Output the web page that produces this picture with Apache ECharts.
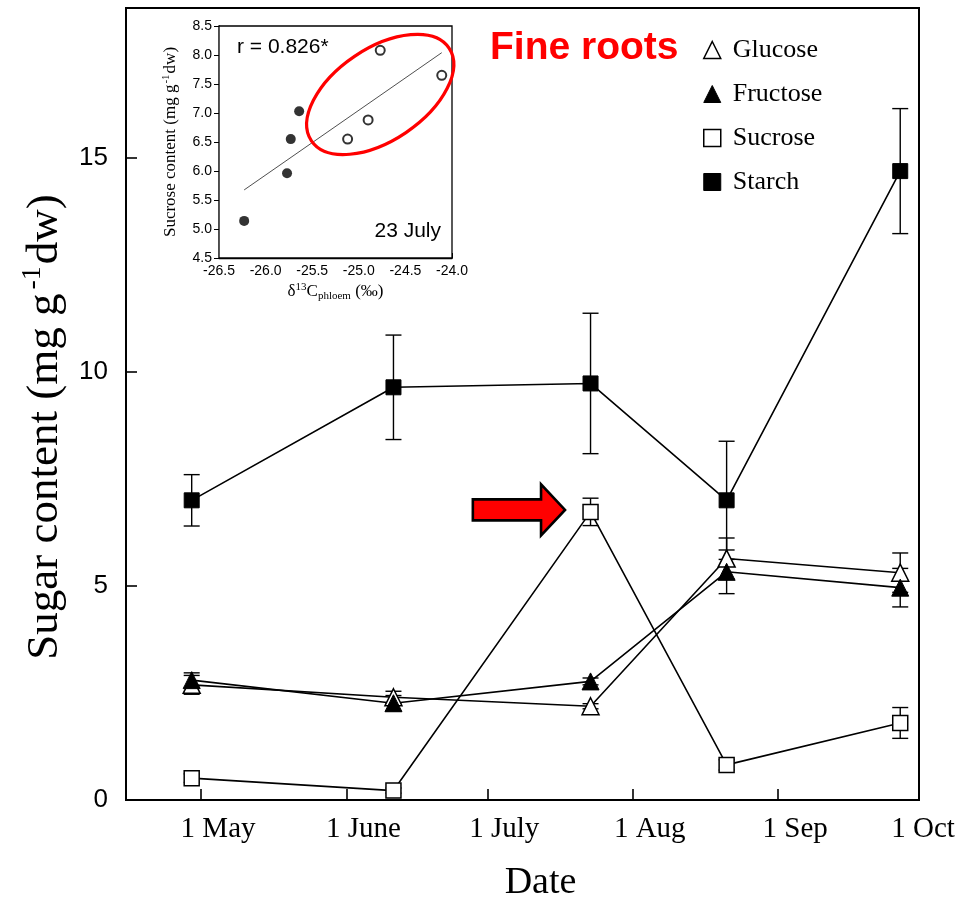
<!DOCTYPE html>
<html>
<head>
<meta charset="utf-8">
<script src="https://cdn.jsdelivr.net/npm/echarts@6/dist/echarts.min.js"></script>
<style>
  html, body { margin: 0; padding: 0; background: #fff; }
  #chart { width: 962px; height: 907px; }
</style>
</head>
<body>
<div id="chart"></div>
<script>
// Harvest dates (month-day) for the fine-root samples
const sampleDates = ['04-29', '06-11', '07-23', '08-21', '09-27'];

// Sugar contents, mg g-1 dw (mean and standard error)
const glucose     = [2.69, 2.40, 2.19, 5.64, 5.31];
const glucoseErr  = [0.22, 0.14, 0.06, 0.48, 0.46];
const fructose    = [2.80, 2.26, 2.77, 5.33, 4.96];
const fructoseErr = [0.17, 0.18, 0.08, 0.51, 0.45];
const sucrose     = [0.51, 0.22, 6.73, 0.82, 1.80];
const sucroseErr  = [0.10, 0.06, 0.32, 0.12, 0.36];
const starch      = [7.00, 9.64, 9.73, 7.00, 14.69];
const starchErr   = [0.60, 1.22, 1.64, 1.38, 1.46];

// Axis ticks
const monthTicks  = ['05-01', '06-01', '07-01', '08-01', '09-01', '10-01'];
const monthLabels = ['1 May', '1 June', '1 July', '1 Aug', '1 Sep', '1 Oct'];
const xRange      = ['04-15', '10-01'];
const yTicks      = [0, 5, 10, 15];

// Inset: sucrose content vs. phloem δ13C on 23 July
const d13cFilled = [-26.23, -25.77, -25.73, -25.64];
const sucFilled  = [5.14, 5.96, 6.55, 7.03];
const d13cOpen   = [-25.12, -24.90, -24.77, -24.11];
const sucOpen    = [6.55, 6.88, 8.08, 7.65];

const SERIF = "'Liberation Serif', 'Times New Roman', serif";
const SANS  = "'Liberation Sans', Arial, sans-serif";

// day of year (non-leap calendar) for a 'MM-DD' string
function doy(md) {
  const [m, d] = md.split('-').map(Number);
  return (Date.UTC(2001, m - 1, d) - Date.UTC(2001, 0, 1)) / 86400000 + 1;
}
const xs = sampleDates.map(doy);
const tickDays = monthTicks.map(doy);

function pairs(vals) { return vals.map((v, i) => [xs[i], v]); }

function errorBars(vals, errs) {
  return {
    type: 'custom',
    xAxisIndex: 0, yAxisIndex: 0,
    silent: true, z: 1,
    data: vals.map((v, i) => [xs[i], v - errs[i], v + errs[i]]),
    encode: { x: 0, y: [1, 2] },
    renderItem(params, api) {
      const x = api.value(0);
      const lo = api.coord([x, api.value(1)]);
      const hi = api.coord([x, api.value(2)]);
      const hw = 8;
      const st = { stroke: '#000', lineWidth: 1.4 };
      return {
        type: 'group',
        children: [
          { type: 'line', shape: { x1: lo[0], y1: lo[1], x2: hi[0], y2: hi[1] }, style: st },
          { type: 'line', shape: { x1: lo[0] - hw, y1: lo[1], x2: lo[0] + hw, y2: lo[1] }, style: st },
          { type: 'line', shape: { x1: hi[0] - hw, y1: hi[1], x2: hi[0] + hw, y2: hi[1] }, style: st }
        ]
      };
    }
  };
}

function sugarLine(name, vals, symbol, open) {
  return {
    type: 'line', name,
    xAxisIndex: 0, yAxisIndex: 0,
    data: pairs(vals),
    symbol, symbolSize: symbol === 'triangle' ? 17 : 15,
    showAllSymbol: true,
    itemStyle: open
      ? { color: '#fff', borderColor: '#000', borderWidth: 1.5 }
      : { color: '#000', borderColor: '#000', borderWidth: 1 },
    lineStyle: { color: '#000', width: 1.6 },
    emphasis: { disabled: true },
    z: 3
  };
}

// least-squares fit across all inset points
const allX = d13cFilled.concat(d13cOpen);
const allY = sucFilled.concat(sucOpen);
const mx = allX.reduce((a, b) => a + b, 0) / allX.length;
const my = allY.reduce((a, b) => a + b, 0) / allY.length;
let sxy = 0, sxx = 0;
allX.forEach((x, i) => { sxy += (x - mx) * (allY[i] - my); sxx += (x - mx) * (x - mx); });
const slope = sxy / sxx;
const x0 = Math.min(...allX), x1 = Math.max(...allX);
const fitLine = [[x0, my + slope * (x0 - mx)], [x1, my + slope * (x1 - mx)]];

const chart = echarts.init(document.getElementById('chart'), null, { renderer: 'canvas' });

const openSym = { color: '#fff', borderColor: '#000', borderWidth: 1.5 };
const fullSym = { color: '#000', borderColor: '#000', borderWidth: 1 };

const option = {
  animation: false,
  backgroundColor: '#fff',
  grid: [
    { left: 126, top: 8, right: 43, bottom: 106, show: true, borderColor: '#000', borderWidth: 2, backgroundColor: 'transparent', z: 0 },
    { left: 219, top: 26, width: 233, height: 232, show: true, borderColor: '#000', borderWidth: 1.3, backgroundColor: '#fff', z: 5 }
  ],
  legend: {
    orient: 'vertical',
    left: 698, top: 32,
    itemWidth: 17, itemHeight: 17, itemGap: 18,
    selectedMode: false,
    textStyle: { fontFamily: SERIF, fontSize: 26, color: '#000', padding: [0, 0, 0, 7] },
    data: [
      { name: 'Glucose',  icon: 'triangle', itemStyle: openSym },
      { name: 'Fructose', icon: 'triangle', itemStyle: fullSym },
      { name: 'Sucrose',  icon: 'rect',     itemStyle: { color: '#fff', borderColor: '#000', borderWidth: 1.5 } },
      { name: 'Starch',   icon: 'rect',     itemStyle: fullSym }
    ]
  },
  xAxis: [
    {
      type: 'value', gridIndex: 0,
      min: doy(xRange[0]), max: doy(xRange[1]),
      name: 'Date', nameLocation: 'middle', nameGap: 64,
      nameTextStyle: { fontFamily: SERIF, fontSize: 38, color: '#000', padding: [0, 0, 0, 36] },
      axisLine: { show: true, lineStyle: { color: '#000', width: 2 } },
      axisTick: { show: true, inside: true, length: 11, customValues: tickDays, lineStyle: { color: '#000', width: 1.6 } },
      axisLabel: {
        show: true, margin: 15, customValues: tickDays,
        fontFamily: SERIF, fontSize: 29, color: '#000',
        formatter: v => {
          const i = tickDays.indexOf(v);
          const t = i >= 0 ? monthLabels[i] : '';
          return i === tickDays.length - 1 ? '{e|' + t + '}' : '{n|' + t + '}';
        },
        rich: {
          n: { fontFamily: SERIF, fontSize: 29, color: '#000', padding: [0, 0, 0, 34] },
          e: { fontFamily: SERIF, fontSize: 29, color: '#000', padding: [0, 0, 0, 8] }
        }
      },
      splitLine: { show: false }
    },
    {
      type: 'value', gridIndex: 1,
      min: -26.5, max: -24.0, interval: 0.5,
      name: 'δ{sup|13}C{sub|phloem} (‰)', nameLocation: 'middle', nameGap: 24,
      nameTextStyle: {
        fontFamily: SERIF, fontSize: 17, color: '#000',
        rich: {
          sup: { fontFamily: SERIF, fontSize: 11, color: '#000', padding: [0, 0, 9, 0] },
          sub: { fontFamily: SERIF, fontSize: 11, color: '#000', padding: [9, 0, 0, 0] }
        }
      },
      axisLine: { show: true, lineStyle: { color: '#000', width: 1.3 } },
      axisTick: { show: true, inside: true, length: 5, lineStyle: { color: '#000', width: 1 } },
      axisLabel: { fontFamily: SANS, fontSize: 14, color: '#000', margin: 6, formatter: v => v.toFixed(1) },
      splitLine: { show: false }
    }
  ],
  yAxis: [
    {
      type: 'value', gridIndex: 0,
      min: 0, max: 18.5,
      name: 'Sugar content (mg g{sup|-1}dw)', nameLocation: 'middle', nameGap: 55,
      nameTextStyle: {
        fontFamily: SERIF, fontSize: 45, color: '#000', padding: [0, 46, 0, 0],
        rich: { sup: { fontFamily: SERIF, fontSize: 28, color: '#000', padding: [0, 2, 24, 4] } }
      },
      axisLine: { show: true, lineStyle: { color: '#000', width: 2 } },
      axisTick: { show: true, inside: true, length: 11, customValues: yTicks, lineStyle: { color: '#000', width: 1.6 } },
      axisLabel: { show: true, customValues: yTicks, margin: 18, fontFamily: SANS, fontSize: 26, color: '#000' },
      splitLine: { show: false }
    },
    {
      type: 'value', gridIndex: 1,
      min: 4.5, max: 8.5, interval: 0.5,
      name: 'Sucrose content (mg g{sup|-1}dw)', nameLocation: 'middle', nameGap: 38,
      nameTextStyle: {
        fontFamily: SERIF, fontSize: 17, color: '#000',
        rich: { sup: { fontFamily: SERIF, fontSize: 11, color: '#000', padding: [0, 1, 9, 1] } }
      },
      axisLine: { show: true, lineStyle: { color: '#000', width: 1.3 } },
      axisTick: { show: true, inside: false, length: 5, lineStyle: { color: '#000', width: 1 } },
      axisLabel: { fontFamily: SANS, fontSize: 14, color: '#000', margin: 7, formatter: v => v.toFixed(1) },
      splitLine: { show: false }
    }
  ],
  series: [
    errorBars(starch, starchErr),
    errorBars(sucrose, sucroseErr),
    errorBars(glucose, glucoseErr),
    errorBars(fructose, fructoseErr),
    sugarLine('Starch', starch, 'rect', false),
    sugarLine('Sucrose', sucrose, 'rect', true),
    sugarLine('Glucose', glucose, 'triangle', true),
    sugarLine('Fructose', fructose, 'triangle', false),
    {
      type: 'line', xAxisIndex: 1, yAxisIndex: 1,
      data: fitLine, symbol: 'none', silent: true,
      lineStyle: { color: '#222', width: 0.8 }, z: 6
    },
    {
      type: 'scatter', xAxisIndex: 1, yAxisIndex: 1,
      data: d13cFilled.map((x, i) => [x, sucFilled[i]]),
      symbol: 'circle', symbolSize: 10,
      itemStyle: { color: '#000' }, silent: true, z: 7
    },
    {
      type: 'scatter', xAxisIndex: 1, yAxisIndex: 1,
      data: d13cOpen.map((x, i) => [x, sucOpen[i]]),
      symbol: 'circle', symbolSize: 9,
      itemStyle: { color: '#fff', borderColor: '#000', borderWidth: 2 }, silent: true, z: 7
    }
  ]
};

chart.setOption(option);

// Annotations: title text, statistics, highlight ellipse and arrow
const ellipseCenter = chart.convertToPixel({ gridIndex: 1 }, [-24.77, 7.32]);
const arrowTarget = chart.convertToPixel({ gridIndex: 0 }, [xs[2], sucrose[2]]);
const tx = arrowTarget[0] - 24, ty = arrowTarget[1] - 2;
const arrowShape = [
  [-93.7, -10.5], [-25.5, -10.5], [-25.5, -25.5], [-1.5, 0],
  [-25.5, 25.5], [-25.5, 10.5], [-93.7, 10.5]
].map(p => [tx + p[0], ty + p[1]]);

chart.setOption({
  graphic: [
    {
      type: 'text', left: 490, top: 29, z: 20,
      style: { text: 'Fine roots', fill: '#ff0000', font: "bold 39px 'Liberation Sans', Arial, sans-serif" }
    },
    {
      type: 'text', x: 237, y: 47, z: 20,
      style: { text: 'r = 0.826*', fill: '#000', font: "21px 'Liberation Sans', Arial, sans-serif", verticalAlign: 'middle', align: 'left' }
    },
    {
      type: 'text', x: 441, y: 231, z: 20,
      style: { text: '23 July', fill: '#000', font: "21px 'Liberation Sans', Arial, sans-serif", verticalAlign: 'middle', align: 'right' }
    },
    {
      type: 'ellipse', x: ellipseCenter[0], y: ellipseCenter[1], rotation: 34 * Math.PI / 180, z: 20,
      shape: { cx: 0, cy: 0, rx: 83, ry: 46 },
      style: { fill: 'none', stroke: '#ff0000', lineWidth: 3.2 }
    },
    {
      type: 'polygon', z: 20,
      shape: { points: arrowShape },
      style: { fill: '#ff0000', stroke: '#000', lineWidth: 2.6, lineJoin: 'miter' }
    }
  ]
});
</script>
</body>
</html>
